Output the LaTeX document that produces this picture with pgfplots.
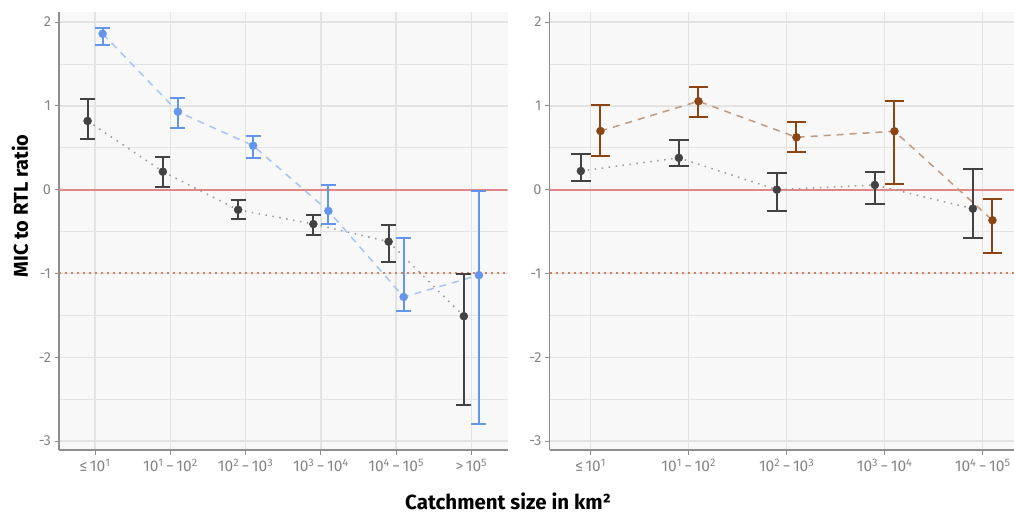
\documentclass[border=0pt]{standalone}
\usepackage{fontspec}
\setmainfont{Fira Sans}
\usepackage{pgfplots}
\usepackage{pgfplotstable}
\pgfplotsset{compat=1.18}

\definecolor{panelbg}{HTML}{F8F8F8}
\definecolor{gridc}{HTML}{E3E3E3}
\definecolor{axisc}{HTML}{8E8E8E}
\definecolor{tickc}{HTML}{858585}
\definecolor{ptdark}{HTML}{424242}
\definecolor{dotline}{HTML}{9A9A9A}
\definecolor{blueS}{HTML}{6495ED}
\definecolor{blueL}{HTML}{A8C4F3}
\definecolor{brownS}{HTML}{8B4513}
\definecolor{brownL}{HTML}{C29A80}
\definecolor{zeroline}{HTML}{DF8787}
\definecolor{refline}{HTML}{DC7E55}

% estimate, lower and upper bound per catchment class
\pgfplotstableread{
x y lo hi
0 0.82 0.605 1.08
1 0.215 0.03 0.39
2 -0.24 -0.35 -0.123
3 -0.41 -0.54 -0.30
4 -0.62 -0.86 -0.42
5 -1.51 -2.57 -1.01
}\leftBase
\pgfplotstableread{
x y lo hi
0 1.86 1.73 1.93
1 0.93 0.74 1.09
2 0.525 0.38 0.645
3 -0.254 -0.405 0.06
4 -1.28 -1.45 -0.576
5 -1.02 -2.80 -0.02
}\leftBlue
\pgfplotstableread{
x y lo hi
0 0.223 0.104 0.43
1 0.38 0.283 0.597
2 0.0 -0.25 0.20
3 0.056 -0.167 0.21
4 -0.227 -0.573 0.247
}\rightBase
\pgfplotstableread{
x y lo hi
0 0.70 0.406 1.01
1 1.055 0.87 1.225
2 0.625 0.45 0.81
3 0.697 0.072 1.062
4 -0.365 -0.755 -0.111
}\rightBrown

\newcommand{\rng}[2]{10\textsuperscript{#1}\kern2.5pt−\kern2.5pt10\textsuperscript{#2}}

\pgfplotsset{
  panel/.style={
    scale only axis, height=438pt,
    ymin=-3.106, ymax=2.12,
    axis background/.style={fill=panelbg},
    axis x line*=bottom, axis y line*=left,
    axis line style={axisc, line width=1.3pt, -},
    ytick={-3,-2,-1,0,1,2},
    yticklabels={-3,-2,-1,0,1,2},
    minor ytick={-2.5,-1.5,-0.5,0.5,1.5},
    grid=both,
    major grid style={gridc, line width=1.3pt},
    minor grid style={gridc, line width=0.8pt},
    minor tick length=0pt,
    tick align=outside, major tick length=4.5pt,
    tick style={axisc, line width=1.1pt},
    yticklabel style={font=\fontsize{14.5}{16}\selectfont, text=tickc},
    xticklabel style={font=\fontsize{15.5}{17}\selectfont, text=tickc, yshift=-1pt},
  },
  linebase/.style={dotline, line width=1.5pt, dash pattern=on 1.5pt off 5.5pt, no markers},
  ebars/.style={only marks, mark=*, mark size=4pt, color=#1,
    error bars/.cd, y dir=both, y explicit,
    error bar style={line width=2pt, color=#1, solid},
    error mark options={rotate=90, mark size=\capsize, line width=2pt, color=#1}},
}

\begin{document}
\begin{tikzpicture}
% left panel
\def\capsize{7.5pt}
\begin{axis}[panel, at={(59pt,-450pt)}, anchor=south west,
  width=448.5pt, xmin=-0.48, xmax=5.48,
  xtick={0,...,5},
  xticklabels={{≤\kern2.5pt10\textsuperscript{1}}, {\rng{1}{2}}, {\rng{2}{3}},
    {\rng{3}{4}}, {\rng{4}{5}}, {>\kern2.5pt10\textsuperscript{5}}}]
  \addplot[zeroline, line width=2pt] coordinates {(-0.48,0) (5.48,0)};
  \addplot[refline, line width=2pt, dash pattern=on 2pt off 4pt] coordinates {(-0.48,-1) (5.48,-1)};
  \addplot[linebase] table[x expr=\thisrow{x}-0.1, y=y] {\leftBase};
  \addplot[blueL, line width=1.5pt, dash pattern=on 7pt off 6pt, no markers] table[x expr=\thisrow{x}+0.1, y=y] {\leftBlue};
  \addplot[ebars=ptdark] table[x expr=\thisrow{x}-0.1, y=y,
    y error plus expr=\thisrow{hi}-\thisrow{y}, y error minus expr=\thisrow{y}-\thisrow{lo}] {\leftBase};
  \addplot[ebars=blueS] table[x expr=\thisrow{x}+0.1, y=y,
    y error plus expr=\thisrow{hi}-\thisrow{y}, y error minus expr=\thisrow{y}-\thisrow{lo}] {\leftBlue};
\end{axis}
% right panel
\def\capsize{9.8pt}
\begin{axis}[panel, at={(549.5pt,-450pt)}, anchor=south west,
  width=474.3pt, xmin=-0.42, xmax=4.42,
  xtick={0,...,4},
  xticklabels={{≤\kern2.5pt10\textsuperscript{1}}, {\rng{1}{2}}, {\rng{2}{3}},
    {\rng{3}{4}}, {\rng{4}{5}}}]
  \addplot[zeroline, line width=2pt] coordinates {(-0.42,0) (4.42,0)};
  \addplot[refline, line width=2pt, dash pattern=on 2pt off 4pt] coordinates {(-0.42,-1) (4.42,-1)};
  \addplot[linebase] table[x expr=\thisrow{x}-0.1, y=y] {\rightBase};
  \addplot[brownL, line width=1.5pt, dash pattern=on 7pt off 6pt, no markers] table[x expr=\thisrow{x}+0.1, y=y] {\rightBrown};
  \addplot[ebars=ptdark] table[x expr=\thisrow{x}-0.1, y=y,
    y error plus expr=\thisrow{hi}-\thisrow{y}, y error minus expr=\thisrow{y}-\thisrow{lo}] {\rightBase};
  \addplot[ebars=brownS] table[x expr=\thisrow{x}+0.1, y=y,
    y error plus expr=\thisrow{hi}-\thisrow{y}, y error minus expr=\thisrow{y}-\thisrow{lo}] {\rightBrown};
\end{axis}
% axis titles
\node[rotate=90, inner sep=0pt, font=\fontsize{20}{22}\selectfont\bfseries] at (20pt,-206pt) {MIC to RTL ratio};
\node[inner sep=0pt, font=\fontsize{20.5}{22}\selectfont\bfseries] at (508pt,-501pt) {Catchment size in km²};
\pgfresetboundingbox
\useasboundingbox (0,0) rectangle (1014pt,-513pt);
\end{tikzpicture}
\end{document}
